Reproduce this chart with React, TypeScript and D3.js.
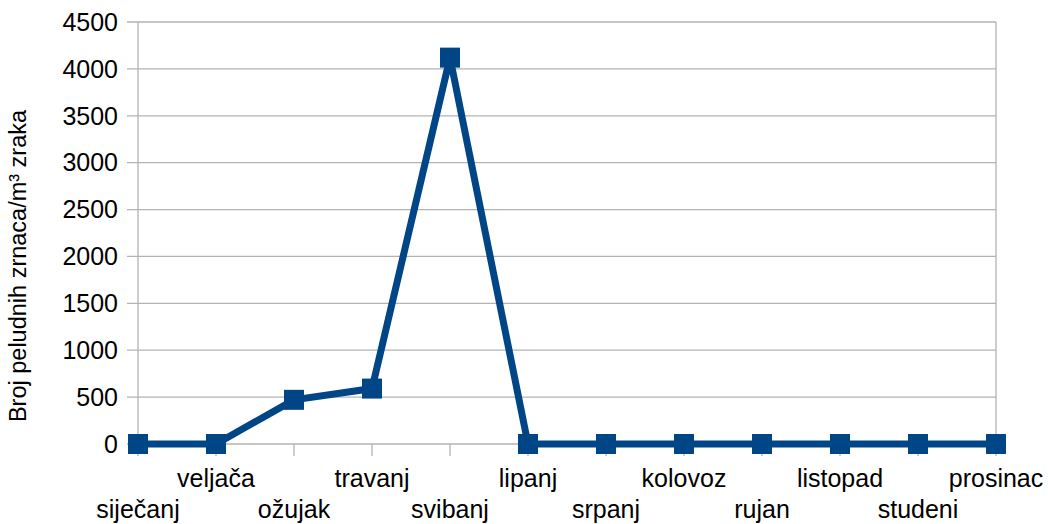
import React from "react";
import * as d3 from "d3";

const months = [
  "siječanj", "veljača", "ožujak", "travanj", "svibanj", "lipanj",
  "srpanj", "kolovoz", "rujan", "listopad", "studeni", "prosinac",
];
const pollenCounts = [0, 0, 471, 591, 4120, 0, 0, 0, 0, 0, 0, 0];
const yTicks = [0, 500, 1000, 1500, 2000, 2500, 3000, 3500, 4000, 4500];
const yTitle = "Broj peludnih zrnaca/m³ zraka";

const W = 1048;
const H = 524;
const left = 138;
const right = 996;
const top = 22;
const bottom = 444;
const font = "'Liberation Sans', Arial, sans-serif";
const lineColor = "#004586";
const gridColor = "#b3b3b3";

export default function App() {
  const x = d3.scalePoint<string>().domain(months).range([left, right]).padding(0);
  const y = d3.scaleLinear().domain([0, 4500]).range([bottom, top]);
  const line = d3
    .line<number>()
    .x((_, i) => x(months[i]) as number)
    .y((d) => y(d));
  const ms = 20;

  return (
    <svg
      width={W}
      height={H}
      style={{ position: "absolute", left: 0, top: 0, background: "#fff" }}
      fontFamily={font}
    >
      <rect x={0} y={0} width={W} height={H} fill="#fff" />
      {yTicks.map((t) => (
        <line
          key={"g" + t}
          x1={left - 11}
          x2={right}
          y1={y(t)}
          y2={y(t)}
          stroke={gridColor}
          strokeWidth={1.3}
        />
      ))}
      <line x1={left} x2={left} y1={top} y2={bottom} stroke={gridColor} strokeWidth={1.3} />
      <line x1={right} x2={right} y1={top} y2={bottom} stroke={gridColor} strokeWidth={1.3} />
      {months.map((m) => (
        <line
          key={"xt" + m}
          x1={x(m)}
          x2={x(m)}
          y1={bottom}
          y2={bottom + 12}
          stroke={gridColor}
          strokeWidth={1.3}
        />
      ))}
      {yTicks.map((t) => (
        <text
          key={"yl" + t}
          x={118}
          y={y(t)}
          dy="0.35em"
          textAnchor="end"
          fontSize={25}
          fill="#000"
        >
          {t}
        </text>
      ))}
      {months.map((m, i) => (
        <text
          key={"xl" + m}
          x={x(m)}
          y={i % 2 === 1 ? 487 : 518}
          textAnchor="middle"
          fontSize={25}
          fill="#000"
        >
          {m}
        </text>
      ))}
      <text
        transform={`translate(26, 266) rotate(-90)`}
        textAnchor="middle"
        fontSize={23.5}
        fill="#000"
      >
        {yTitle}
      </text>
      <path
        d={line(pollenCounts) || ""}
        fill="none"
        stroke={lineColor}
        strokeWidth={7}
        strokeLinejoin="miter"
      />
      {pollenCounts.map((v, i) => (
        <rect
          key={"m" + i}
          x={(x(months[i]) as number) - ms / 2}
          y={y(v) - ms / 2}
          width={ms}
          height={ms}
          fill={lineColor}
        />
      ))}
    </svg>
  );
}
